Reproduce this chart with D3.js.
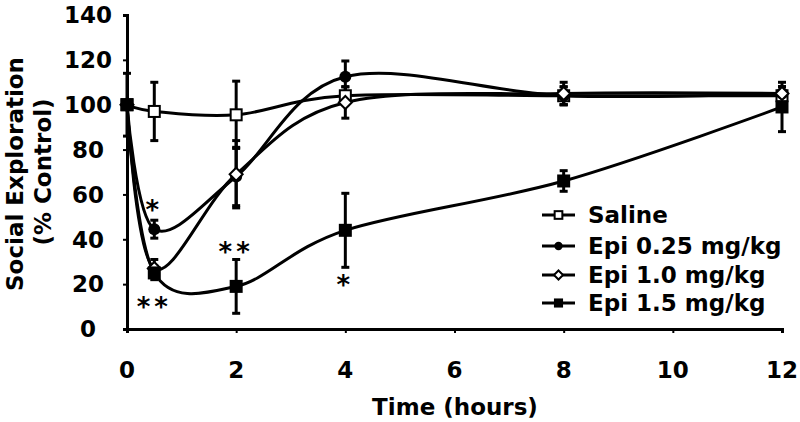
<!DOCTYPE html>
<html>
<head>
<meta charset="utf-8">
<script src="https://cdn.jsdelivr.net/npm/d3@7"></script>
<style>
  html, body { margin: 0; padding: 0; background: #fff; }
  svg { display: block; }
  text { font-family: "DejaVu Sans", Verdana, sans-serif; font-weight: bold; fill: #000; }
</style>
</head>
<body>
<svg id="chart" width="800" height="422"></svg>
<script>
const times = [0, 0.5, 2, 4, 8, 12];
const seriesNames = ["Saline", "Epi 0.25 mg/kg", "Epi 1.0 mg/kg", "Epi 1.5 mg/kg"];
const salineValues = [100, 97, 95.5, 104, 104, 104];
const salineErrors = [14, 13, 15, 4, 4, 4];
const epi025Values = [100, 44.5, 68, 112.5, 104, 105];
const epi025Errors = [0, 4, 13, 7, 4, 3];
const epi10Values = [100, 27, 69, 101, 105, 105];
const epi10Errors = [0, 4, 15, 7, 5, 3];
const epi15Values = [100, 25, 19, 44, 66, 99];
const epi15Errors = [0, 3, 12, 16.5, 4.6, 11];
const xTicks = [0, 2, 4, 6, 8, 10, 12];
const yTicks = [0, 20, 40, 60, 80, 100, 120, 140];
const markerTypes = ["openSquare", "filledCircle", "openDiamond", "filledSquare"];
const stars = [
  { t: 0.5, v: 55.3, label: "*" },
  { t: 0.5, v: 12, label: "**" },
  { t: 2, v: 36.6, label: "**" },
  { t: 4, v: 21.8, label: "*" }
];

const series = [
  { name: seriesNames[0], values: salineValues, errors: salineErrors, marker: markerTypes[0] },
  { name: seriesNames[1], values: epi025Values, errors: epi025Errors, marker: markerTypes[1] },
  { name: seriesNames[2], values: epi10Values, errors: epi10Errors, marker: markerTypes[2] },
  { name: seriesNames[3], values: epi15Values, errors: epi15Errors, marker: markerTypes[3] }
];

const FS = 23;
const svg = d3.select("#chart");
const x = d3.scaleLinear().domain([0, 12]).range([127, 782]);
const y = d3.scaleLinear().domain([0, 140]).range([329, 15]);

// axes
const xAxis = svg.append("g").attr("transform", `translate(0,${y(0)})`)
  .call(d3.axisBottom(x).tickValues(xTicks).tickSize(4).tickFormat(""));
const yAxis = svg.append("g").attr("transform", `translate(${x(0)},0)`)
  .call(d3.axisLeft(y).tickValues(yTicks).tickSize(4).tickFormat(""));
[xAxis, yAxis].forEach(g => {
  g.select(".domain").attr("stroke", "#000").attr("stroke-width", 3);
  g.selectAll(".tick line").attr("stroke", "#000").attr("stroke-width", 2);
});

// tick labels
svg.append("g").selectAll("text").data(xTicks).join("text")
  .attr("x", d => x(d)).attr("y", 370).attr("dy", "0.36em")
  .attr("text-anchor", "middle").style("font-size", FS + "px").text(d => d);
svg.append("g").selectAll("text").data(yTicks).join("text")
  .attr("x", 88).attr("y", d => y(d)).attr("dy", "0.36em")
  .attr("text-anchor", "middle").style("font-size", FS + "px").text(d => d);

// axis titles
svg.append("text").attr("x", 455).attr("y", 407).attr("dy", "0.36em")
  .attr("text-anchor", "middle").style("font-size", FS + "px").text("Time (hours)");
svg.append("text").attr("transform", "translate(15,174) rotate(-90)").attr("dy", "0.36em")
  .attr("text-anchor", "middle").style("font-size", FS + "px").text("Social Exploration");
svg.append("text").attr("transform", "translate(43,172) rotate(-90)").attr("dy", "0.36em")
  .attr("text-anchor", "middle").style("font-size", FS + "px").text("(% Control)");

const line = d3.line().x(d => x(d[0])).y(d => y(d[1])).curve(d3.curveCatmullRom.alpha(0));

function drawMarker(g, type, cx, cy, scale) {
  const s = scale || 1;
  if (type === "openSquare") {
    g.append("rect").attr("x", cx - 5.5 * s).attr("y", cy - 5.5 * s).attr("width", 11 * s).attr("height", 11 * s)
      .attr("fill", "#fff").attr("stroke", "#000").attr("stroke-width", 2);
  } else if (type === "filledSquare") {
    g.append("rect").attr("x", cx - 6.5 * s).attr("y", cy - 6.5 * s).attr("width", 13 * s).attr("height", 13 * s)
      .attr("fill", "#000");
  } else if (type === "filledCircle") {
    g.append("circle").attr("cx", cx).attr("cy", cy).attr("r", 6 * s).attr("fill", "#000");
  } else if (type === "openDiamond") {
    const r = 6.5 * s;
    g.append("path").attr("d", `M${cx},${cy - r}L${cx + r},${cy}L${cx},${cy + r}L${cx - r},${cy}Z`)
      .attr("fill", "#fff").attr("stroke", "#000").attr("stroke-width", 2);
  }
}

// lines
series.forEach(s => {
  svg.append("path").datum(times.map((t, i) => [t, s.values[i]]))
    .attr("d", line).attr("fill", "none").attr("stroke", "#000").attr("stroke-width", 3);
});

// error bars
series.forEach(s => {
  const g = svg.append("g");
  times.forEach((t, i) => {
    const e = s.errors[i];
    if (!e) return;
    const cx = x(t);
    const y1 = y(s.values[i] + e), y2 = y(s.values[i] - e);
    g.append("line").attr("x1", cx).attr("x2", cx).attr("y1", y1).attr("y2", y2)
      .attr("stroke", "#000").attr("stroke-width", 3);
    [y1, y2].forEach(yy => g.append("line").attr("x1", cx - 4).attr("x2", cx + 4).attr("y1", yy).attr("y2", yy)
      .attr("stroke", "#000").attr("stroke-width", 3));
  });
});

// markers
series.forEach(s => {
  const g = svg.append("g");
  times.forEach((t, i) => drawMarker(g, s.marker, x(t), y(s.values[i])));
});

// significance stars (baseline placed so glyph centre lands on value)
const starSize = 26;
svg.append("g").selectAll("text").data(stars).join("text")
  .attr("x", d => x(d.t)).attr("y", d => y(d.v) + starSize * 0.55)
  .attr("text-anchor", "middle").style("font-size", starSize + "px")
  .style("letter-spacing", "4px").text(d => d.label);

// legend
const legendRows = [215, 246, 275, 303];
series.forEach((s, i) => {
  const g = svg.append("g");
  const ly = legendRows[i];
  g.append("line").attr("x1", 542).attr("x2", 575).attr("y1", ly).attr("y2", ly)
    .attr("stroke", "#000").attr("stroke-width", 3);
  drawMarker(g, s.marker, 558.5, ly, 0.7);
  g.append("text").attr("x", 588).attr("y", ly).attr("dy", "0.36em")
    .style("font-size", FS + "px").text(s.name);
});
</script>
</body>
</html>
